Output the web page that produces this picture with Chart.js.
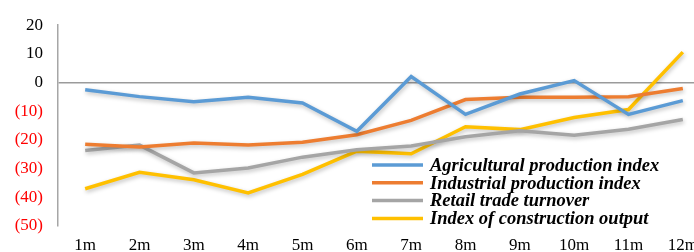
<!DOCTYPE html>
<html>
<head>
<meta charset="utf-8">
<script src="https://cdn.jsdelivr.net/npm/chart.js@4/dist/chart.umd.min.js"></script>
<style>
  html, body { margin: 0; padding: 0; background: #fff; overflow: hidden; }
  #wrap { width: 710px; height: 252px; position: relative; }
</style>
</head>
<body>
<div id="wrap"><canvas id="trendChart"></canvas></div>
<script>
// month labels
const months = ['1m', '2m', '3m', '4m', '5m', '6m', '7m', '8m', '9m', '10m', '11m', '12m'];

// series
const agricultural = [-2.5, -4.9, -6.7, -5.1, -7.1, -17.0, 2.1, -11.1, -4.0, 0.7, -11.1, -6.3];
const industrial   = [-21.5, -22.5, -21.1, -21.8, -20.8, -18.2, -13.2, -5.9, -5.1, -5.1, -4.9, -2.1];
const retail       = [-23.7, -21.8, -31.5, -29.8, -26.0, -23.4, -22.1, -18.9, -16.8, -18.4, -16.3, -12.9];
const construction = [-37.0, -31.3, -33.9, -38.5, -32.0, -23.9, -24.8, -15.4, -16.4, -12.2, -9.4, 10.6];

const seriesNames = [
  'Agricultural production index',
  'Industrial production index',
  'Retail trade turnover',
  'Index of construction output'
];
const seriesColors = ['#5B9BD5', '#ED7D31', '#A5A5A5', '#FFC000'];

const yMin = -50, yMax = 20, yStep = 10;

const serif = "'Liberation Serif', 'DejaVu Serif', serif";

// soft shadow under the lines
const lineShadow = {
  id: 'lineShadow',
  beforeDatasetsDraw(chart) {
    const c = chart.ctx;
    c.save();
    c.shadowColor = 'rgba(0,0,0,0.25)';
    c.shadowBlur = 4;
    c.shadowOffsetX = 1;
    c.shadowOffsetY = 2;
  },
  afterDatasetsDraw(chart) {
    chart.ctx.restore();
  }
};

// legend drawn in the lower right corner of the plot
const cornerLegend = {
  id: 'cornerLegend',
  afterDraw(chart) {
    const c = chart.ctx;
    c.save();
    c.font = "italic bold 18.5px " + serif;
    c.textBaseline = 'middle';
    c.textAlign = 'left';
    chart.data.datasets.forEach((ds, i) => {
      const y = 165 + i * 17.8;
      c.strokeStyle = ds.borderColor;
      c.lineWidth = 3.5;
      c.beginPath();
      c.moveTo(372, y);
      c.lineTo(423, y);
      c.stroke();
      c.fillStyle = '#000';
      c.fillText(ds.label, 430, y + 1);
    });
    c.restore();
  }
};

const datasets = [agricultural, industrial, retail, construction].map((vals, i) => ({
  label: seriesNames[i],
  data: vals,
  borderColor: seriesColors[i],
  backgroundColor: seriesColors[i],
  borderWidth: 3.5,
  pointRadius: 0,
  tension: 0,
  fill: false
}));

new Chart(document.getElementById('trendChart'), {
  type: 'line',
  data: { labels: months, datasets: datasets },
  plugins: [lineShadow, cornerLegend],
  options: {
    responsive: true,
    maintainAspectRatio: false,
    animation: false,
    layout: { padding: { top: 22, left: 0, right: 0, bottom: 0 } },
    plugins: {
      legend: { display: false },
      tooltip: { enabled: false }
    },
    scales: {
      x: {
        offset: true,
        grid: { display: false, drawTicks: false },
        border: { display: false },
        ticks: {
          color: '#000',
          font: { family: serif, size: 17 },
          padding: 9,
          maxRotation: 0,
          autoSkip: false
        },
        afterFit(scale) { scale.height = 26; }
      },
      y: {
        min: yMin,
        max: yMax,
        ticks: {
          stepSize: yStep,
          padding: 15,
          font: { family: serif, size: 17 },
          color: (ctx) => ctx.tick.value < 0 ? '#FF0000' : '#000',
          callback: (v) => v < 0 ? '(' + Math.abs(v) + ')' : String(v)
        },
        grid: {
          drawTicks: false,
          color: (ctx) => ctx.tick && ctx.tick.value === 0 ? '#9B9B9B' : 'rgba(0,0,0,0)',
          lineWidth: 1.5
        },
        border: { display: true, color: '#A6A6A6', width: 1.5 },
        afterFit(scale) { scale.width = 58; }
      }
    }
  }
});
</script>
</body>
</html>
